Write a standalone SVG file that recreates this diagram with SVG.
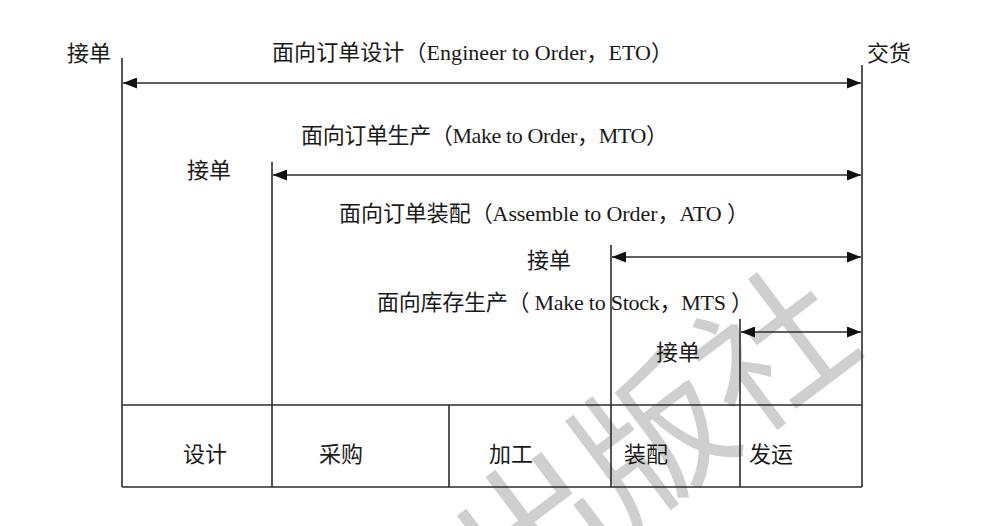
<svg xmlns="http://www.w3.org/2000/svg" width="994" height="526" viewBox="0 0 994 526">
<style>
.t{font-family:"Liberation Serif","Noto Sans CJK SC",serif;font-size:22px;fill:#1a1a1a}
.ln{stroke:#2b2b2b;stroke-width:1.6;fill:none}
.ar{stroke:#2b2b2b;stroke-width:1.6;fill:none;marker-start:url(#ah);marker-end:url(#ah)}
.wm{font-family:"Noto Sans CJK SC",sans-serif;font-size:150px;fill:#cfcfcf}
</style>
<defs>
<marker id="ah" viewBox="0 0 14 11" refX="14" refY="5.5" markerWidth="14" markerHeight="11" markerUnits="userSpaceOnUse" orient="auto-start-reverse">
<path d="M0,0 L14,5.5 L0,11 Z" fill="#111"/>
</marker>
</defs>
<rect width="994" height="526" fill="#fff"/>
<g id="watermark">
<text class="wm" transform="translate(652,438) rotate(-37)" x="0" y="57" text-anchor="middle">出版社</text>
</g>
<g id="connectors">
<line class="ln" x1="122" y1="58" x2="122" y2="487"/>
<line class="ln" x1="862" y1="65" x2="862" y2="487"/>
<line class="ln" x1="272" y1="162" x2="272" y2="487"/>
<line class="ln" x1="611" y1="245" x2="611" y2="487"/>
<line class="ln" x1="740" y1="319" x2="740" y2="487"/>
<line class="ln" x1="449" y1="405" x2="449" y2="487"/>
<line class="ln" x1="122" y1="405" x2="862" y2="405"/>
<line class="ln" x1="122" y1="487" x2="862" y2="487"/>
<line class="ar" x1="123" y1="83" x2="861" y2="83"/>
<line class="ar" x1="273" y1="175" x2="861" y2="175"/>
<line class="ar" x1="612" y1="257" x2="861" y2="257"/>
<line class="ar" x1="741" y1="332" x2="861" y2="332"/>
</g>
<g id="eto">
<text class="t" x="67" y="61">接单</text>
<text class="t" x="272" y="60" textLength="401" lengthAdjust="spacing">面向订单设计（Engineer to Order，ETO）</text>
<text class="t" x="867" y="61">交货</text>
</g>
<g id="mto">
<text class="t" x="301" y="143" textLength="367" lengthAdjust="spacing">面向订单生产（Make to Order，MTO）</text>
<text class="t" x="187" y="178">接单</text>
</g>
<g id="ato">
<text class="t" x="339" y="221" textLength="410" lengthAdjust="spacing">面向订单装配（Assemble to Order，ATO ）</text>
<text class="t" x="527" y="268">接单</text>
</g>
<g id="mts">
<text class="t" x="377" y="310" textLength="376" lengthAdjust="spacing">面向库存生产（ Make to Stock，MTS ）</text>
<text class="t" x="656" y="360">接单</text>
</g>
<g id="table">
<text class="t" x="183" y="462">设计</text>
<text class="t" x="319" y="462">采购</text>
<text class="t" x="489" y="462">加工</text>
<text class="t" x="624" y="462">装配</text>
<text class="t" x="749" y="462">发运</text>
</g>
</svg>
